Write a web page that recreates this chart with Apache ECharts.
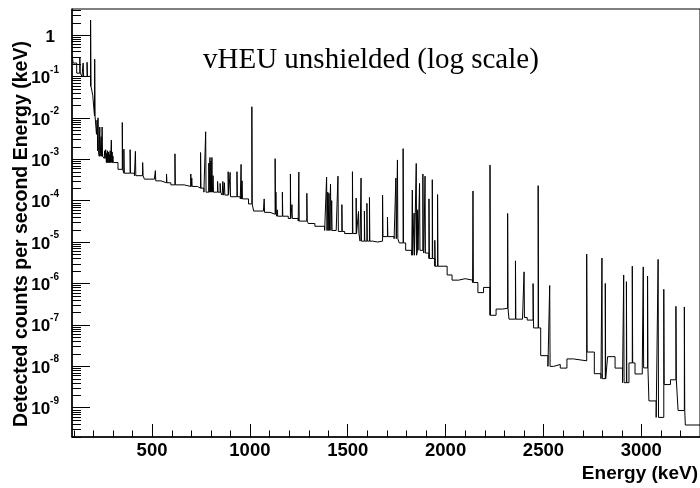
<!DOCTYPE html>
<html><head><meta charset="utf-8">
<script src="https://cdn.jsdelivr.net/npm/echarts@6/dist/echarts.min.js"></script>
<style>html,body{margin:0;padding:0;background:#fff}#c{width:700px;height:488px}</style>
</head><body><div id="c"></div>
<script>
// ---- axis ranges & tick labels ----
const energyMin = 91, energyMax = 3300;
const countsMin = 1.95e-10, countsMax = 4.25;
const xTickLabels = [500, 1000, 1500, 2000, 2500, 3000];
const yTickExponents = [-9, -8, -7, -6, -5, -4, -3, -2, -1, 0];

// ---- continuum (histogram steps): start energy (keV) and value ----
const continuumStart = [91, 97, 115, 142, 186, 197, 206, 216, 222, 230, 255, 267, 326, 356, 410, 461, 512, 546, 596, 664, 731, 765,
  858, 892, 951, 993, 1019, 1069, 1103, 1137, 1196, 1247, 1298, 1332, 1382, 1441, 1484, 1563, 1627, 1653, 1678, 1737, 1763, 1796,
  1827, 1856, 1889, 1915, 1945, 2008, 2033, 2067, 2100, 2138, 2165, 2194, 2227, 2258, 2290, 2324, 2393, 2417, 2450, 2486, 2523,
  2552, 2586, 2620, 2653, 2721, 2760, 2794, 2828, 2866, 2904, 2937, 2968, 3005, 3039, 3076, 3115, 3149, 3188, 3225];
const continuumValue = [0.33, 0.21, 0.12, 0.10, 0.058, 0.035, 0.011, 0.004, 0.0016, 0.00118, 0.00105, 0.00083, 0.00057, 0.00046,
  0.0004, 0.00033, 0.0003, 0.00027, 0.00024, 0.00022, 0.0002, 0.00016,
  0.000136, 0.000124, 0.00011, 0.000083, 0.000056, 0.000052, 0.000047, 0.000042, 0.000037, 0.000032, 0.000028, 0.000024,
  0.000019, 0.000018, 0.000016, 0.0000105, 0.00001, 0.0000105, 0.0000135, 0.000012, 0.0000095, 0.0000063,
  0.0000048, 0.0000063, 0.0000054, 0.000004, 0.0000026, 0.0000016, 0.0000012, 0.0000013, 0.0000012, 0.00000105, 6e-7, 8e-7,
  1.7e-7, 2.4e-7, 2.5e-7, 1.37e-7, 1.5e-7, 1.3e-7, 8.4e-8, 1.8e-8, 9.9e-9,
  1.1e-8, 9e-9, 1.5e-8, 1.35e-8, 2.2e-8, 6.6e-9, 5e-9, 1.7e-8, 9e-9, 4e-9, 1.2e-8, 6.5e-9, 9.1e-9, 1.45e-9, 5.8e-10,
  3.6e-9, 4.7e-9, 8.5e-10, 3.8e-10];

// ---- gamma lines: energy (keV) and peak value ----
const lineEnergy = [131, 148, 168, 186, 207, 219, 224, 233, 240, 245, 258, 263, 268, 272, 277, 281, 286, 292, 296, 300,
  348, 356, 388, 415, 452, 517, 574, 617, 698, 703, 748, 774, 790, 796, 801, 806, 812, 835, 848, 862, 870, 889, 899, 934, 955, 960,
  1010, 1073, 1129, 1133, 1140, 1166, 1207, 1215, 1250, 1291, 1392, 1398, 1404, 1412, 1418, 1450, 1470,
  1524, 1543, 1555, 1568, 1585, 1598, 1611, 1678, 1703, 1746, 1754, 1783, 1830, 1839, 1850, 1857, 1867, 1884, 1895, 1915, 1932, 1945, 1959,
  2140, 2227, 2317, 2357, 2401, 2447, 2473, 2532, 2721, 2799, 2816, 2910, 2924, 2954, 3010, 3032, 3086, 3115, 3177, 3220];
const linePeak = [0.28, 0.21, 0.22, 2.3, 0.26, 0.0088, 0.010, 0.006, 0.0035, 0.006, 0.0016, 0.0017, 0.0014, 0.0016, 0.0015, 0.0013, 0.0016, 0.0029, 0.0015, 0.0012,
  0.0077, 0.00175, 0.0017, 0.00155, 0.00083, 0.00053, 0.00044, 0.00135, 0.00044, 0.00035, 0.00145, 0.0046, 0.0008, 0.0011, 0.0009, 0.0011, 0.0004, 0.00029, 0.00026, 0.00029, 0.00027, 0.0005, 0.00048, 0.0005, 0.00075, 0.0003,
  0.0185, 0.00011, 0.00103, 0.00016, 0.00006, 0.00016, 0.00044, 0.00008, 0.00049, 0.00015, 0.00037, 0.00016, 0.00015, 0.00025, 0.0001, 0.00039, 0.00008,
  0.0005, 0.000115, 0.000055, 0.00035, 0.000056, 0.000086, 0.00012, 0.000135, 0.00004, 0.00035, 0.00096, 0.0018, 0.00018, 0.00005, 0.00079, 0.00006, 0.00026, 0.00044, 0.00039, 0.00011, 0.00032, 0.000011, 0.00014,
  0.00017, 0.00072, 0.000049, 0.0000035, 0.0000019, 0.00000099, 0.00023, 0.00000089, 0.0000051, 0.0000041, 0.000001, 0.0000016, 0.0000011, 0.0000026, 0.0000025, 0.0000015, 0.0000038, 0.00000072, 0.00000028, 0.00000027];
const lineBinWidth = 2; // keV

// ---- build histogram (step) points ----
const hist = [];
for (let i = 0; i < continuumStart.length; i++) {
  const s = continuumStart[i];
  const e = i + 1 < continuumStart.length ? continuumStart[i + 1] : energyMax;
  const c = continuumValue[i];
  hist.push([s, c]);
  for (let j = 0; j < lineEnergy.length; j++) {
    if (lineEnergy[j] >= s && lineEnergy[j] < e) {
      hist.push([lineEnergy[j], linePeak[j]]);
      hist.push([lineEnergy[j] + lineBinWidth, c]);
    }
  }
}
hist.push([energyMax, continuumValue[continuumValue.length - 1]]);
const histLog = hist.map(p => [p[0], Math.log10(p[1])]);

const yLo = Math.log10(countsMin), yHi = Math.log10(countsMax);

// minor ticks
const yMinor = [];
for (let k = -10; k <= 0; k++) for (let m = 2; m <= 9; m++) {
  const v = m * Math.pow(10, k);
  if (v > countsMin && v < countsMax) yMinor.push([energyMin, Math.log10(v)]);
}
const xMinor = [];
for (let E = 100; E < energyMax; E += 100) if (E % 500 !== 0 && E > energyMin) xMinor.push([E, yLo]);

const chart = echarts.init(document.getElementById('c'), null, {renderer: 'canvas'});
const FONT = 'Liberation Sans';
chart.setOption({
  animation: false,
  backgroundColor: '#fff',
  grid: {left: 72, top: 9, width: 633, height: 428, show: true, borderColor: '#000', borderWidth: 1, backgroundColor: 'transparent'},
  xAxis: {
    type: 'value', min: energyMin, max: energyMax, splitNumber: 6,
    axisLine: {show: true, onZero: false, lineStyle: {color: '#000', width: 1.5}},
    axisTick: {show: true, inside: true, length: 13, lineStyle: {color: '#000', width: 1}},
    splitLine: {show: false},
    axisLabel: {
      margin: 4, color: '#000', fontFamily: FONT, fontWeight: 'bold', fontSize: 18.5,
      showMinLabel: false, showMaxLabel: false,
      formatter: v => xTickLabels.indexOf(Math.round(v)) >= 0 && Math.abs(v - Math.round(v)) < 1e-6 ? String(Math.round(v)) : ''
    }
  },
  yAxis: {
    type: 'value', min: yLo, max: yHi, splitNumber: 10,
    axisLine: {show: true, onZero: false, lineStyle: {color: '#000', width: 1.5}},
    axisTick: {show: true, inside: true, length: 18, lineStyle: {color: '#000', width: 1}},
    splitLine: {show: false},
    axisLabel: {
      margin: 13, color: '#000', fontFamily: FONT, fontWeight: 'bold', fontSize: 17,
      showMinLabel: false, showMaxLabel: false,
      formatter: v => {
        const n = Math.round(v);
        if (Math.abs(v - n) > 1e-6 || yTickExponents.indexOf(n) < 0) return '';
        if (n === 0) return '{one|1}';
        return '{b|10}{s|' + n + '}';
      },
      rich: {
        b: {fontFamily: FONT, fontWeight: 'bold', fontSize: 17, color: '#000', padding: [4, 0, 0, 0]},
        s: {fontFamily: FONT, fontWeight: 'bold', fontSize: 10, color: '#000', verticalAlign: 'bottom', padding: [0, 0, 13, 0]},
        one: {fontFamily: FONT, fontWeight: 'bold', fontSize: 17, color: '#000', padding: [4, 4, 0, 0]}
      }
    }
  },
  graphic: [
    {type: 'text', x: 203, y: 60, style: {text: 'vHEU unshielded (log scale)', font: '29px "Liberation Serif"', fill: '#000', align: 'left', verticalAlign: 'middle'}},
    {type: 'text', x: 698, y: 474, style: {text: 'Energy (keV)', font: 'bold 19px "Liberation Sans"', fill: '#000', align: 'right', verticalAlign: 'middle'}},
    {type: 'text', x: 22, y: 234, rotation: Math.PI / 2, style: {text: 'Detected counts per second Energy (keV)', font: 'bold 19.5px "Liberation Sans"', fill: '#000', align: 'center', verticalAlign: 'middle'}}
  ],
  series: [
    {
      name: 'vHEU unshielded', type: 'line', step: 'end', data: histLog, symbol: 'none', showSymbol: false,
      lineStyle: {color: '#000', width: 1}, clip: true, silent: true, sampling: null
    },
    {
      type: 'custom', data: yMinor, silent: true, z: 5,
      renderItem: (params, api) => {
        const p = api.coord([api.value(0), api.value(1)]);
        const y = Math.round(p[1]) + 0.5;
        return {type: 'line', shape: {x1: p[0], y1: y, x2: p[0] + 9, y2: y}, style: {stroke: '#000', lineWidth: 1}};
      }
    },
    {
      type: 'custom', data: xMinor, silent: true, z: 5,
      renderItem: (params, api) => {
        const p = api.coord([api.value(0), api.value(1)]);
        const x = Math.round(p[0]) + 0.5;
        return {type: 'line', shape: {x1: x, y1: p[1], x2: x, y2: p[1] - 6.5}, style: {stroke: '#000', lineWidth: 1}};
      }
    }
  ]
});
</script></body></html>
